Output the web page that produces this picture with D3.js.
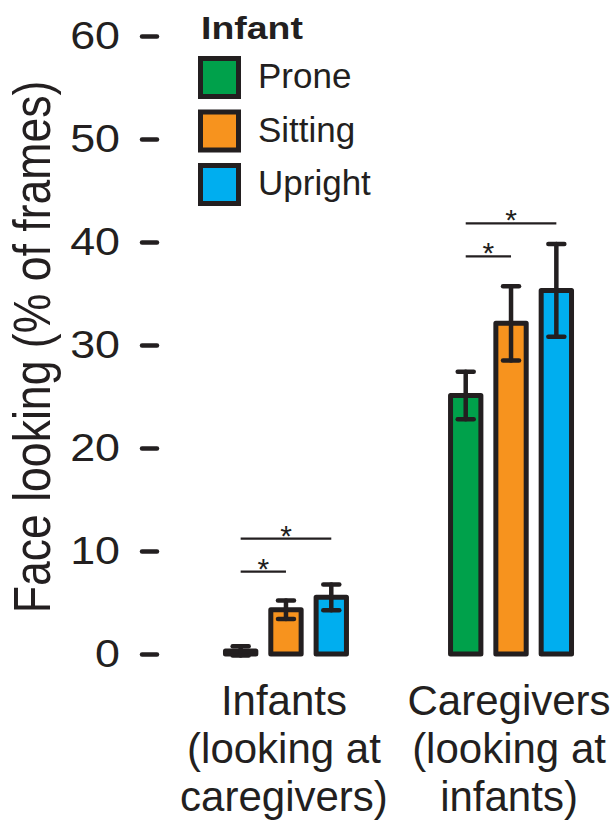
<!DOCTYPE html>
<html>
<head>
<meta charset="utf-8">
<script src="https://cdn.jsdelivr.net/npm/d3@7/dist/d3.min.js"></script>
<style>
  html, body { margin: 0; padding: 0; background: #ffffff; }
  svg { display: block; font-family: "Liberation Sans", Arial, Helvetica, sans-serif; }
</style>
</head>
<body>
<svg id="chart" width="613" height="825"></svg>
<script>
// Groups (who is looking) and infant posture subgroups
const groups = ["Infants", "Caregivers"];
const groupLabels = [
  ["Infants", "(looking at", "caregivers)"],
  ["Caregivers", "(looking at", "infants)"]
];
const postures = ["Prone", "Sitting", "Upright"];
const postureColors = ["#00a14b", "#f7931e", "#00aeef"];

// Mean face looking (% of frames) and standard error, per group, in posture order
const infantMeans = [0.3, 4.3, 5.5];
const infantErrors = [0.45, 0.9, 1.25];
const caregiverMeans = [25.1, 32.1, 35.3];
const caregiverErrors = [2.3, 3.6, 4.5];

// Significance brackets: [group, from posture, to posture, height in %]
const sigBrackets = [
  ["Infants", "Prone", "Sitting", 8.0],
  ["Infants", "Prone", "Upright", 11.2],
  ["Caregivers", "Prone", "Sitting", 38.6],
  ["Caregivers", "Prone", "Upright", 41.8]
];

const yTicks = [0, 10, 20, 30, 40, 50, 60];

const ink = "#231f20";
const svg = d3.select("#chart");

const rows = [];
[infantMeans, caregiverMeans].forEach((means, gi) => {
  const errs = gi === 0 ? infantErrors : caregiverErrors;
  postures.forEach((p, pi) => {
    rows.push({ group: groups[gi], posture: p, mean: means[pi], se: errs[pi], color: postureColors[pi] });
  });
});

// Scales
const y = d3.scaleLinear().domain([0, 60]).range([654, 36]);
const x0 = d3.scaleBand().domain(groups).range([218, 579]).paddingInner(0.396).paddingOuter(0);
const x1 = d3.scaleBand().domain(postures).range([0, x0.bandwidth()]).paddingInner(0.22).paddingOuter(0.11);
const cx = (g, p) => x0(g) + x1(p) + x1.bandwidth() / 2;

// Y axis: ticks only, no domain line
const axisX = 157;
const yAxis = d3.axisLeft(y).tickValues(yTicks).tickSize(15).tickPadding(22).tickFormat(d3.format("d"));
const ag = svg.append("g").attr("transform", `translate(${axisX},0)`).call(yAxis);
ag.select(".domain").remove();
ag.selectAll(".tick line")
  .attr("stroke", ink).attr("stroke-width", 4.5).attr("stroke-linecap", "round");
ag.selectAll(".tick text")
  .attr("fill", ink)
  .attr("font-size", 39)
  .attr("font-family", "\"Liberation Sans\", Arial, sans-serif")
  .each(function () {
    const t = d3.select(this);
    const xx = +t.attr("x");
    t.attr("x", 0).attr("transform", `translate(${xx},0) scale(1.15,1)`);
  });

// Y title
svg.append("text")
  .attr("transform", `translate(50,347) scale(1.17,1) rotate(-90)`)
  .attr("text-anchor", "middle")
  .attr("font-size", 44.6)
  .attr("fill", ink)
  .text("Face looking (% of frames)");

// Bars
const sw = 5;
svg.append("g").selectAll("rect")
  .data(rows)
  .join("rect")
  .attr("x", d => x0(d.group) + x1(d.posture) + sw / 2)
  .attr("width", x1.bandwidth() - sw)
  .attr("y", d => y(d.mean))
  .attr("height", d => y(0) - y(d.mean))
  .attr("fill", d => d.color)
  .attr("stroke", ink)
  .attr("stroke-width", sw)
  .attr("stroke-linejoin", "round");

// Error bars
const capHalf = 8;
const eg = svg.append("g").attr("stroke", ink).attr("stroke-width", 4.5).attr("stroke-linecap", "round");
rows.forEach(d => {
  const c = cx(d.group, d.posture);
  const top = y(d.mean + d.se), bot = y(d.mean - d.se);
  eg.append("line").attr("x1", c).attr("x2", c).attr("y1", top).attr("y2", bot);
  eg.append("line").attr("x1", c - capHalf).attr("x2", c + capHalf).attr("y1", top).attr("y2", top);
  eg.append("line").attr("x1", c - capHalf).attr("x2", c + capHalf).attr("y1", bot).attr("y2", bot);
});

// Significance brackets
const sg = svg.append("g");
sigBrackets.forEach(([g, a, b, v]) => {
  const xa = cx(g, a), xb = cx(g, b), yy = y(v);
  sg.append("line").attr("x1", xa).attr("x2", xb).attr("y1", yy).attr("y2", yy)
    .attr("stroke", ink).attr("stroke-width", 2.2);
  sg.append("text")
    .attr("x", (xa + xb) / 2).attr("y", yy + 7)
    .attr("text-anchor", "middle")
    .attr("font-size", 30)
    .attr("fill", ink)
    .text("*");
});

// Group labels
const lg = svg.append("g").attr("fill", ink).attr("font-size", 42).attr("text-anchor", "middle");
groups.forEach((g, gi) => {
  const c = x0(g) + x0.bandwidth() / 2 - 2;
  groupLabels[gi].forEach((line, li) => {
    lg.append("text").attr("x", c).attr("y", 715 + li * 48).text(line);
  });
});

// Legend
const leg = svg.append("g");
leg.append("text")
  .attr("transform", "translate(201,39) scale(1.17,1)")
  .attr("font-size", 32).attr("font-weight", "bold").attr("fill", ink)
  .text("Infant");
postures.forEach((p, i) => {
  const top = 56 + i * 53.5;
  leg.append("rect")
    .attr("x", 198 + sw / 2).attr("y", top + sw / 2)
    .attr("width", 43 - sw).attr("height", 43 - sw)
    .attr("fill", postureColors[i])
    .attr("stroke", ink).attr("stroke-width", sw);
  leg.append("text")
    .attr("x", 258).attr("y", top + 32)
    .attr("font-size", 35).attr("fill", ink)
    .text(p);
});
</script>
</body>
</html>
